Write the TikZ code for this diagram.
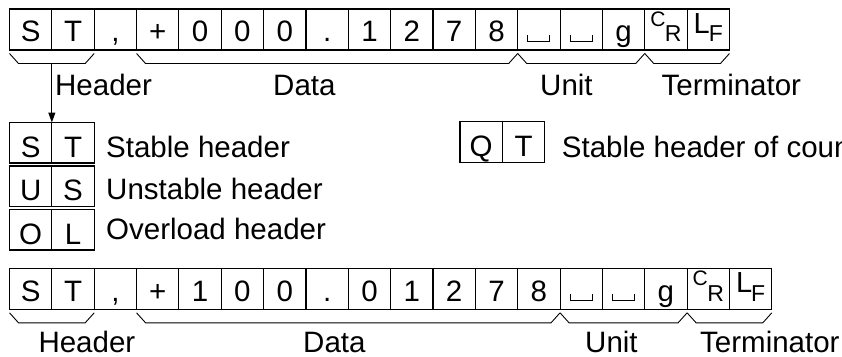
\documentclass[tikz,border=0pt]{standalone}
\usepackage{fontspec}
\setmainfont{Liberation Sans}
\usetikzlibrary{positioning,arrows.meta}

\newcommand\spc{\rule{1pt}{7pt}\rule{21pt}{1pt}\rule{1pt}{7pt}}
\newcommand\crsym{{\fontsize{21}{21}\selectfont\raisebox{15.5pt}{C}}\kern-0.5pt{\fontsize{23}{23}\selectfont R}}
\newcommand\lfsym{{\fontsize{29}{29}\selectfont\raisebox{8.5pt}{L}}\kern-1pt{\fontsize{23}{23}\selectfont F}}

\begin{document}
\begin{tikzpicture}[
    x=1pt, y=-1pt,
    font=\fontsize{29.5}{35}\selectfont,
    cell/.style={rectangle, draw=black, line width=1.1pt, anchor=south west, minimum width=42.35pt, minimum height=41pt, inner sep=0pt, outer sep=0pt, text height=24.4pt, text depth=0pt},
    hbox/.style={rectangle, draw=black, line width=1.1pt, minimum width=42.35pt, minimum height=40.5pt, inner sep=0pt, outer sep=0pt, text height=28.5pt, text depth=0pt},
    lbl/.style={anchor=base west, inner sep=0pt},
    brc/.style={line width=0.9pt, draw=black},
    arrow/.style={-{Triangle[length=10pt, width=7pt]}, line width=1pt}
]
\useasboundingbox (0,0) rectangle (842,356);

% first output line
\foreach \c [count=\i] in {S,T,{,},+,0,0,0,.,1,2,7,8,\spc,\spc,g,\crsym,\lfsym}
  \node[cell] (t\i) at ({9.5+(\i-1)*42.35}, 50) {\c};

\node[lbl] (th) at (55,95) {Header};
\node[lbl] (td) at (273,95) {Data};
\node[lbl] (tu) at (540,95) {Unit};
\node[lbl] (tt) at (661.5,95) {Terminator};

% header types
\node[hbox, anchor=north west] (s1) at (9.5,122.5) {S};
\node[hbox, right=0pt of s1] (s2) {T};
\node[hbox, anchor=north west] (u1) at (9.5,166) {U};
\node[hbox, right=0pt of u1] (u2) {S};
\node[hbox, anchor=north west] (o1) at (9.5,209.5) {O};
\node[hbox, right=0pt of o1] (o2) {L};
\node[hbox, anchor=north west] (q1) at (460,121.7) {Q};
\node[hbox, right=0pt of q1] (q2) {T};

\node[lbl] (ls) at (106,157) {Stable header};
\node[lbl] (lu) at (106,199.5) {Unstable header};
\node[lbl] (lo) at (106,239.5) {Overload header};
\begin{scope}
  \clip (0,0) rectangle (842,356);
  \node[lbl] (lq) at (561.7,157) {Stable header of counting mode};
\end{scope}

% second output line
\foreach \c [count=\i] in {S,T,{,},+,1,0,0,.,0,1,2,7,8,\spc,\spc,g,\crsym,\lfsym}
  \node[cell] (b\i) at ({9.5+(\i-1)*42.35}, 309.3) {\c};

\node[lbl] (bh) at (38.3,352) {Header};
\node[lbl] (bd) at (303,352) {Data};
\node[lbl] (bu) at (585,352) {Unit};
\node[lbl] (bt) at (700,352) {Terminator};

% braces
\foreach \a/\b in {t1/t2, t4/t12, t13/t15, t16/t17, b1/b2, b4/b13, b14/b16, b17/b18}
  \draw[brc] ([yshift=-3.5pt]\a.south west) -- ++(9pt,-10pt) -- ([shift={(-9pt,-13.5pt)}]\b.south east) -- ([yshift=-3.5pt]\b.south east);

\draw[arrow] ([yshift=-13.5pt]t1.south east) -- (s1.north east);

\end{tikzpicture}
\end{document}
